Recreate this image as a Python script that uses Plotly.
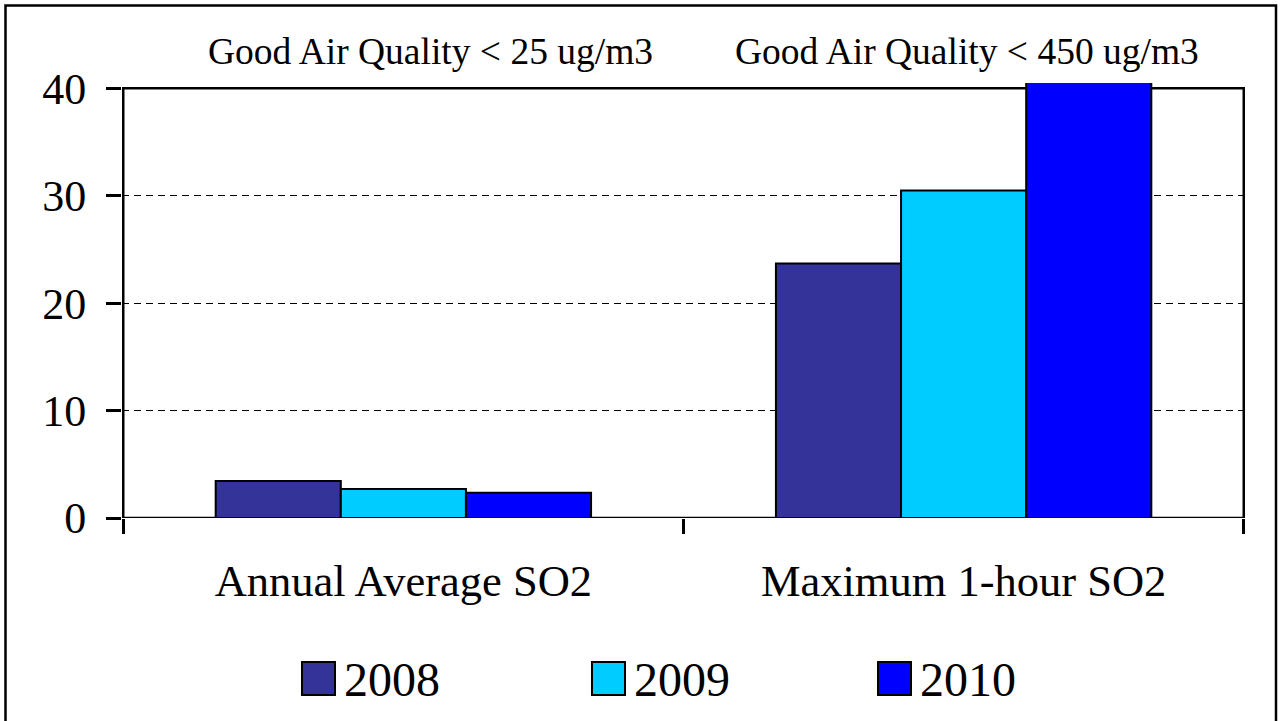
import plotly.graph_objects as go

categories = ["Annual Average SO2", "Maximum 1-hour SO2"]
years = ["2008", "2009", "2010"]
values_2008 = [3.45, 23.7]
values_2009 = [2.7, 30.5]
values_2010 = [2.35, 41.0]
series_values = [values_2008, values_2009, values_2010]
colors = ["#333399", "#00CCFF", "#0000FF"]
limits = ["Good Air Quality < 25 ug/m3", "Good Air Quality < 450 ug/m3"]
y_ticks = [0, 10, 20, 30, 40]

FONT = "'Liberation Serif', 'Times New Roman', Times, serif"
W, H = 1280, 721
L, R, T, B = 122, 35, 83, 203
PW, PH = W - L - R, H - T - B


def px(x):
    return (x - L) / PW


def py(y):
    return (H - B - y) / PH


fig = go.Figure()
for name, vals, col in zip(years, series_values, colors):
    fig.add_trace(go.Bar(
        x=categories, y=vals, name=name,
        marker=dict(color=col, line=dict(color="black", width=2)),
        showlegend=False,
    ))

shapes = [
    # plot frame
    dict(type="rect", xref="x", yref="y", x0=-0.5, x1=1.5, y0=0, y1=40,
         line=dict(color="black", width=2.5), layer="below"),
    # outer border
    dict(type="rect", xref="paper", yref="paper", x0=px(5.5), x1=px(1276),
         y0=py(740), y1=py(5.5), line=dict(color="black", width=2.5), layer="above"),
]

annotations = []
for txt, cx in zip(limits, [430, 967]):
    annotations.append(dict(text=txt, xref="paper", yref="paper", x=px(cx), y=py(52),
                            xanchor="center", yanchor="middle", showarrow=False,
                            font=dict(family=FONT, size=37.5, color="black")))

# legend
sw_x = [302, 592, 878]
for name, col, sx in zip(years, colors, sw_x):
    shapes.append(dict(type="rect", xref="paper", yref="paper",
                       x0=px(sx), x1=px(sx + 33), y0=py(695), y1=py(662),
                       fillcolor=col, line=dict(color="black", width=2), layer="above"))
    annotations.append(dict(text=name, xref="paper", yref="paper", x=px(sx + 40), y=py(679),
                            xanchor="left", yanchor="middle", showarrow=False,
                            font=dict(family=FONT, size=48, color="black")))

fig.update_layout(
    width=W, height=H,
    margin=dict(l=L, r=R, t=T, b=B, autoexpand=False),
    paper_bgcolor="white", plot_bgcolor="white",
    barmode="group", bargap=0.33, bargroupgap=0,
    font=dict(family=FONT, color="black"),
    shapes=shapes, annotations=annotations,
    showlegend=False,
)
fig.update_yaxes(
    range=[0, 40.5], tickvals=y_ticks, ticktext=[str(v) for v in y_ticks],
    ticks="outside", ticklen=15, tickwidth=2.5, tickcolor="black",
    ticklabelstandoff=11,
    tickfont=dict(family=FONT, size=44, color="black"),
    showgrid=True, gridcolor="black", gridwidth=1, griddash="7px,5px",
    zeroline=False, showline=False,
)
fig.update_xaxes(
    ticks="outside", ticklen=15, tickwidth=2.5, tickcolor="black",
    tickson="boundaries", ticklabelstandoff=32,
    tickfont=dict(family=FONT, size=44.5, color="black"),
    showgrid=False, zeroline=False, showline=False,
)

fig.write_html("out.html", config={"displayModeBar": False},
               post_script="document.body.style.margin='0';document.body.style.overflow='hidden';")
